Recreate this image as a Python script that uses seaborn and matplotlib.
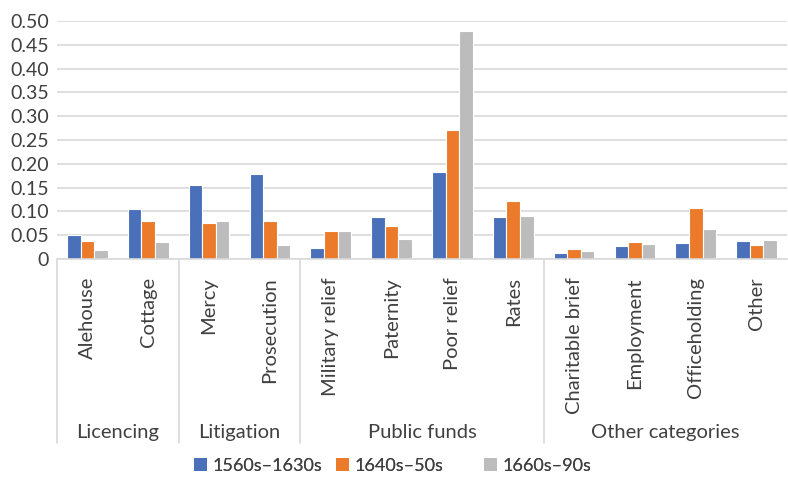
import matplotlib
matplotlib.use("Agg")
import matplotlib.pyplot as plt
import seaborn as sns
import pandas as pd
from matplotlib.patches import Patch
from matplotlib.transforms import blended_transform_factory

categories = ["Alehouse", "Cottage", "Mercy", "Prosecution", "Military relief",
              "Paternity", "Poor relief", "Rates", "Charitable brief",
              "Employment", "Officeholding", "Other"]
series_names = ["1560s\u20131630s", "1640s\u201350s", "1660s\u201390s"]
s1 = [0.051, 0.105, 0.156, 0.179, 0.024, 0.089, 0.183, 0.089, 0.013, 0.028, 0.034, 0.037]
s2 = [0.038, 0.080, 0.075, 0.079, 0.059, 0.070, 0.271, 0.122, 0.022, 0.035, 0.108, 0.030]
s3 = [0.019, 0.035, 0.080, 0.029, 0.059, 0.042, 0.479, 0.091, 0.017, 0.032, 0.062, 0.040]
groups = ["Licencing", "Litigation", "Public funds", "Other categories"]
group_sizes = [2, 2, 4, 4]
colors = ["#4A70BA", "#EB7B2A", "#BCBCBC"]

rows = []
for name, vals in zip(series_names, [s1, s2, s3]):
    for c, v in zip(categories, vals):
        rows.append({"category": c, "period": name, "value": v})
df = pd.DataFrame(rows)

sns.set_style("white")
plt.rcParams["font.family"] = ["Lato", "DejaVu Sans"]
text_color = "#404040"
fs = 14.5

fig = plt.figure(figsize=(7.88, 4.8), dpi=100)
ax = fig.add_axes([57 / 788, (480 - 259) / 480, 730 / 788, 238 / 480])

sns.barplot(data=df, x="category", y="value", hue="period", order=categories,
            hue_order=series_names, palette=colors, width=0.67, ax=ax,
            edgecolor="white", linewidth=0.8, legend=False, saturation=1)

ax.set_ylim(0, 0.5)
ax.set_xlim(-0.5, len(categories) - 0.5)
yt = [i * 0.05 for i in range(11)]
ax.set_yticks(yt)
ax.set_yticklabels(["0"] + [f"{v:.2f}" for v in yt[1:]], fontsize=14, color=text_color)
ax.yaxis.grid(True, color="#D9D9D9", linewidth=1.2)
ax.set_axisbelow(True)
for s in ["left", "right", "top"]:
    ax.spines[s].set_visible(False)
ax.spines["bottom"].set_color("#D9D9D9")
ax.spines["bottom"].set_linewidth(1.2)
ax.tick_params(axis="y", length=0, pad=6)
ax.tick_params(axis="x", length=0, pad=13)
ax.set_xticks(range(len(categories)))
ax.set_xticklabels(categories, rotation=90, fontsize=fs, color=text_color, va="top", ha="center")
ax.set_xlabel("")
ax.set_ylabel("")

trans = blended_transform_factory(ax.transData, ax.transAxes)
bounds = [-0.5]
for gsize in group_sizes:
    bounds.append(bounds[-1] + gsize)
for b in bounds[:-1]:
    ax.plot([b, b], [0, -0.775], transform=trans, color="#D9D9D9", lw=1.2, clip_on=False)
for g, a, b in zip(groups, bounds[:-1], bounds[1:]):
    ax.text((a + b) / 2, -0.727, g, transform=trans, ha="center", va="center",
            fontsize=fs, color=text_color)

# legend: one entry per fixed slot, as in the reference (equal-width slots)
legend_x = [194, 336, 484]
for name, c, x in zip(series_names, colors, legend_x):
    leg = fig.legend([Patch(facecolor=c, edgecolor="none")], [name], loc="center left",
                     bbox_to_anchor=(x / 788, 1 - 466 / 480), frameon=False, fontsize=13,
                     handlelength=0.72, handleheight=0.72, handletextpad=0.3,
                     borderpad=0, borderaxespad=0, labelcolor=text_color)
    fig.add_artist(leg)

fig.savefig("out.png", dpi=100)
